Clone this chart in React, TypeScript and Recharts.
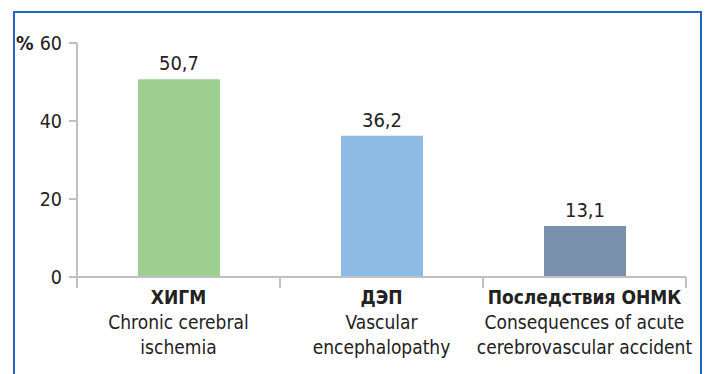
import React from "react"
import { BarChart, Bar, Cell, XAxis, YAxis, LabelList } from "recharts"

// Share of patients by diagnosis, %
const codes = ["ХИГМ", "ДЭП", "Последствия ОНМК"]
const descriptions = [
  ["Chronic cerebral", "ischemia"],
  ["Vascular", "encephalopathy"],
  ["Consequences of acute", "cerebrovascular accident"],
]
const shares = [50.7, 36.2, 13.1]
const barColors = ["#9dd090", "#8dbbe3", "#7a91ad"]
const yTicks = [0, 20, 40, 60]

const FONT = '"Liberation Sans Narrow", "DejaVu Sans Condensed", Roboto, sans-serif'
const W = 705
const H = 374
const Y_AXIS_W = 60
const X_AXIS_H = 30
const MARGIN = { top: 43, right: 19, bottom: 97 - X_AXIS_H, left: 77 - Y_AXIS_W }
const PLOT_W = W - 77 - MARGIN.right
const AXIS_GREY = "#c0c0c0"

const data = codes.map((code, i) => ({ code, lines: descriptions[i], value: shares[i] }))

function CategoryTick(props: any) {
  const { x, y, payload, index } = props
  const band = PLOT_W / data.length
  const row = data[index] || data.find((d) => d.code === payload.value)
  const top = y - 8
  return (
    <g>
      <line x1={x - band / 2} x2={x - band / 2} y1={top} y2={top + 11} stroke={AXIS_GREY} strokeWidth={2} />
      {index === data.length - 1 && (
        <line x1={x + band / 2} x2={x + band / 2} y1={top} y2={top + 11} stroke={AXIS_GREY} strokeWidth={2} />
      )}
      <text x={x} y={top + 27} textAnchor="middle" fontFamily={FONT} fontSize={19} fontWeight="bold" fill="#222">
        {payload.value}
      </text>
      {row.lines.map((line: string, i: number) => (
        <text key={i} x={x} y={top + 52 + i * 25} textAnchor="middle" fontFamily={FONT} fontSize={19} fill="#222">
          {line}
        </text>
      ))}
    </g>
  )
}

function ValueTick(props: any) {
  const { x, y, payload } = props
  return (
    <text x={x} y={y} dy={7} textAnchor="end" fontFamily={FONT} fontSize={19.5} fill="#222">
      {payload.value === yTicks[yTicks.length - 1] && <tspan fontWeight="bold">% </tspan>}
      {payload.value}
    </text>
  )
}

export default function App() {
  return (
    <div style={{ position: "absolute", left: 0, top: 0, width: W, height: H, background: "#fff", overflow: "hidden" }}>
      <div
        style={{
          position: "absolute",
          left: 13,
          top: 11,
          width: 689,
          height: 400,
          border: "2.5px solid #1f68bd",
          borderBottom: "none",
          boxSizing: "border-box",
        }}
      />
      <BarChart width={W} height={H} data={data} margin={MARGIN} style={{ position: "absolute", left: 0, top: 0 }}>
        <XAxis
          dataKey="code"
          height={X_AXIS_H}
          stroke={AXIS_GREY}
          strokeWidth={2}
          tickLine={false}
          tick={<CategoryTick />}
          interval={0}
        />
        <YAxis
          domain={[0, 60]}
          ticks={yTicks}
          width={Y_AXIS_W}
          stroke={AXIS_GREY}
          strokeWidth={2}
          tickSize={8}
          tickMargin={7}
          tick={<ValueTick />}
        />
        <Bar dataKey="value" barSize={82} isAnimationActive={false}>
          {data.map((d, i) => (
            <Cell key={d.code} fill={barColors[i]} />
          ))}
          <LabelList
            dataKey="value"
            position="top"
            offset={9}
            formatter={(v: any) => String(v).replace(".", ",")}
            style={{ fontFamily: FONT, fontSize: 20, fill: "#222" }}
          />
        </Bar>
      </BarChart>
    </div>
  )
}
